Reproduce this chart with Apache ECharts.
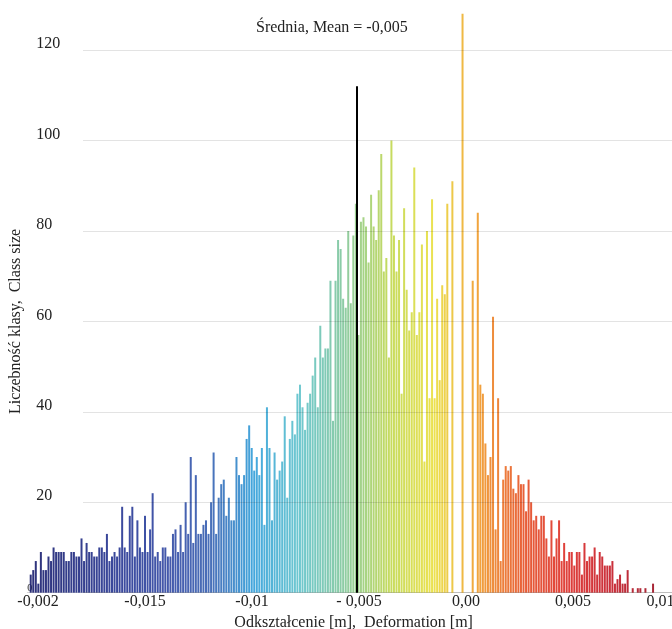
<!DOCTYPE html>
<html><head><meta charset="utf-8">
<script src="https://cdn.jsdelivr.net/npm/echarts@6/dist/echarts.min.js"></script>
<style>html,body{margin:0;padding:0;background:#fff}#c{width:672px;height:629px}</style>
</head><body><div id="c"></div>
<script>
// Histogram bins (deformation, m)
const binStart = -0.0204;
const binWidth = 0.0001187;
// Class sizes (counts) per bin
const counts = [
4,5,7,2,9,5,5,8,7,10, 9,9,9,9,7,7,9,9,8,8, 12,7,11,9,9,8,8,10,10,9, 13,7,8,9,8,10,19,10,9,17, 19,8,16,10,9,17,9,14,22,8, 9,
7,10,10,8,8,13,14,9,15,9, 20,13,30,11,26,13,13,15,16,13, 20,31,13,21,24,25,17,21,16,16, 30,26,24,26,34,37,32,27,30,26, 32,15,41,32,16,31,25,27,29,39, 21,
34,38,35,44,46,41,36,42,44,48, 52,41,59,52,54,54,69,38,69,78, 76,65,63,80,64,79,86,57,82,83, 81,73,88,81,78,89,97,71,74,52, 100,79,71,78,44,85,67,58,62,94, 57,62,
77,29,80,43,87,43,65,47,68,66,86,
0,91,0,0,0,128,0,0,0,69,0,84,
46,44,33,26,30,61,14,43,7,25, 28,27,28,23,22,26,24,24,18,25, 20,16,17,14,17,17,12,8,
16,8,12,16,7,11,7,9,9,6, 9,9,4,11,7,8,8,10,4,9, 8,6,6,6,7,2,3,4,2,2, 5,0,1,0,1,1,0,1,0,0, 2
];
const yTicks = [0, 20, 40, 60, 80, 100, 120];
const xTickValues = [-0.02, -0.015, -0.01, -0.005, 0, 0.005, 0.01];
const xTickLabels = ['-0,002', '-0,015', '-0,01', '- 0,005', '0,00', '0,005', '0,01'];
const meanValue = -0.0051;
const meanLineTop = 112;
const titleText = 'Średnia, Mean = -0,005';
const xName = 'Odkształcenie [m],  Deformation [m]';
const yName = 'Liczebność klasy,  Class size';

const FONT = '"Liberation Serif", "Times New Roman", serif';
const TXT = '#222';

const barData = counts.map((c, i) => [binStart + (i + 0.5) * binWidth, c]);

const chart = echarts.init(document.getElementById('c'), null, {renderer: 'canvas'});
chart.setOption({
  animation: false,
  backgroundColor: '#fff',
  title: {
    text: titleText, left: 251, top: 15,
    textStyle: {fontFamily: FONT, fontSize: 16, fontWeight: 'normal', color: TXT}
  },
  grid: [
    {left: 27.3, right: -8, top: 50, bottom: 36.3, containLabel: false, outerBoundsMode: 'none'},
    {left: 83, right: 0, top: 50, bottom: 36.3, containLabel: false, outerBoundsMode: 'none'}
  ],
  visualMap: {
    type: 'continuous', show: false, seriesIndex: 0, dimension: 0,
    min: -0.0204, max: 0.009,
    inRange: {color: ['#1c216f','#232d82','#2a3a95','#3349a3','#3a62b2','#34a0da','#62c3cc','#84c89c','#c0d852','#eadf42','#f09a2c','#e65228','#dc2e2a','#c41e2a','#9c1426']}
  },
  xAxis: [{
    type: 'value', gridIndex: 0, min: -0.0205, max: 0.01,
    splitLine: {show: false},
    axisTick: {show: false},
    axisLine: {show: true, lineStyle: {color: '#d6d6d6', width: 1}},
    axisLabel: {
      customValues: xTickValues,
      margin: 1,
      fontFamily: FONT, fontSize: 16, color: TXT,
      formatter: function (v) {
        let idx = xTickValues.findIndex(t => Math.abs(t - v) < 1e-9);
        if (idx < 0) return '';
        if (idx === xTickValues.length - 1) return '{r|' + xTickLabels[idx] + '}';
        return xTickLabels[idx];
      },
      rich: {r: {fontFamily: FONT, fontSize: 16, color: TXT, padding: [0, 39, 0, 0]}}
    },
    name: xName, nameLocation: 'middle', nameGap: 22, nameMoveOverlap: false,
    nameTextStyle: {fontFamily: FONT, fontSize: 16, color: TXT}
  }, {
    type: 'value', gridIndex: 1, min: 0, max: 1, show: false
  }],
  yAxis: [{
    type: 'value', gridIndex: 0, min: 0, max: 120, interval: 20,
    splitLine: {show: false}, axisLine: {show: false}, axisTick: {show: false},
    axisLabel: {
      align: 'left', verticalAlign: 'bottom', margin: 0,
      formatter: function (v) { return v === 0 ? '{z|0}' : '{n|' + v + '}'; },
      rich: {
        z: {fontFamily: FONT, fontSize: 10, color: TXT, lineHeight: 8},
        n: {fontFamily: FONT, fontSize: 16, color: TXT, padding: [0, 0, 0, 9], lineHeight: 12}
      }
    },
    name: yName, nameLocation: 'middle', nameGap: 4, nameMoveOverlap: false,
    nameTextStyle: {fontFamily: FONT, fontSize: 16, color: TXT}
  }, {
    type: 'value', gridIndex: 1, min: 0, max: 120, interval: 20, z: 5,
    axisLine: {show: false}, axisTick: {show: false}, axisLabel: {show: false},
    splitLine: {show: true, lineStyle: {color: 'rgba(0,0,0,0.11)', width: 1}}
  }],
  series: [{
    type: 'bar', xAxisIndex: 0, yAxisIndex: 0,
    data: barData, barWidth: 2, clip: false,
    itemStyle: {opacity: 0.92},
    markLine: {
      silent: true, symbol: ['none', 'none'], animation: false,
      label: {show: false},
      lineStyle: {color: '#000', width: 2, type: 'solid'},
      emphasis: {disabled: true},
      data: [[{coord: [meanValue, 0]}, {coord: [meanValue, meanLineTop]}]]
    }
  }]
});
</script>
</body></html>
